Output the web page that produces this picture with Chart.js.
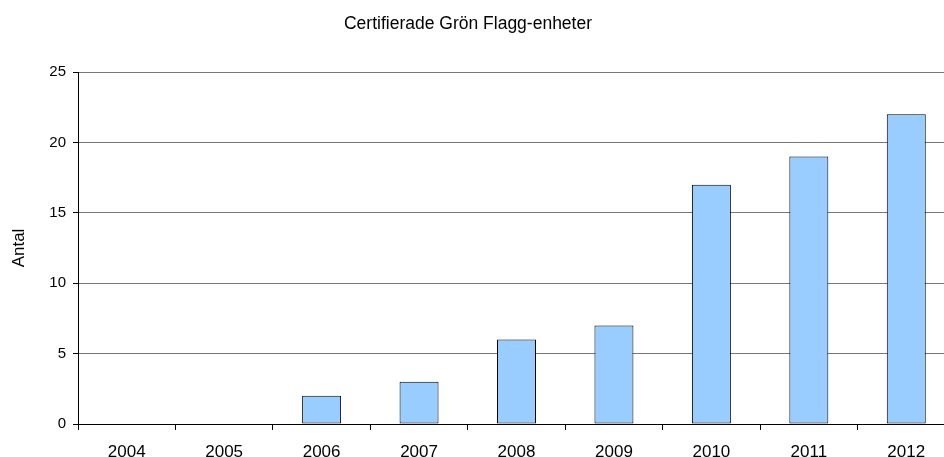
<!DOCTYPE html>
<html>
<head>
<meta charset="utf-8">
<script src="https://cdn.jsdelivr.net/npm/chart.js@4"></script>
<style>
  html, body { margin: 0; padding: 0; overflow: hidden; background: #fff; }
  #wrap { width: 960px; height: 457px; }
</style>
</head>
<body>
<div id="wrap"><canvas id="chart" width="960" height="457"></canvas></div>
<script>
// chart data
const years = ["2004", "2005", "2006", "2007", "2008", "2009", "2010", "2011", "2012"];
const antal = [0, 0, 2, 3, 6, 7, 17, 19, 22];
const chartTitle = "Certifierade Grön Flagg-enheter";
const yTitle = "Antal";

const FONT = "'Liberation Sans', Arial, sans-serif";

// title is drawn by hand, centred where the original puts it
const titlePlugin = {
  id: "plainTitle",
  afterDraw(chart) {
    const ctx = chart.ctx;
    ctx.save();
    ctx.font = "17.5px " + FONT;
    ctx.fillStyle = "#000";
    ctx.textAlign = "center";
    ctx.textBaseline = "alphabetic";
    ctx.fillText(chartTitle, 468, 29);
    ctx.restore();
  }
};

const ctx = document.getElementById("chart").getContext("2d");
new Chart(ctx, {
  type: "bar",
  data: {
    labels: years,
    datasets: [{
      label: yTitle,
      data: antal,
      backgroundColor: "#99CCFF",
      borderColor: "#000",
      borderWidth: 1,
      borderSkipped: false,
      barPercentage: 0.8,
      categoryPercentage: 0.5
    }]
  },
  options: {
    responsive: false,
    animation: false,
    layout: { padding: { top: 72, right: 5, left: 0, bottom: 0 } },
    plugins: {
      legend: { display: false },
      title: { display: false },
      tooltip: { enabled: false }
    },
    scales: {
      x: {
        offset: true,
        grid: {
          offset: true,
          drawOnChartArea: false,
          drawTicks: true,
          tickLength: 6,
          color: "#000"
        },
        border: { display: true, color: "#000", width: 1 },
        ticks: {
          color: "#000",
          font: { family: FONT, size: 17 },
          padding: 12,
          maxRotation: 0
        },
        afterFit(scale) { scale.height = 33; }
      },
      y: {
        min: 0,
        max: 25,
        ticks: {
          stepSize: 5,
          color: "#000",
          font: { family: FONT, size: 15 },
          padding: 7
        },
        grid: {
          color: "#777",
          tickColor: "#000",
          tickLength: 5,
          drawTicks: true
        },
        border: { display: true, color: "#000", width: 1 },
        title: {
          display: true,
          text: yTitle,
          color: "#000",
          font: { family: FONT, size: 17 },
          padding: { top: 9, bottom: 0 }
        },
        afterFit(scale) { scale.width = 78; }
      }
    }
  },
  plugins: [titlePlugin]
});
</script>
</body>
</html>
